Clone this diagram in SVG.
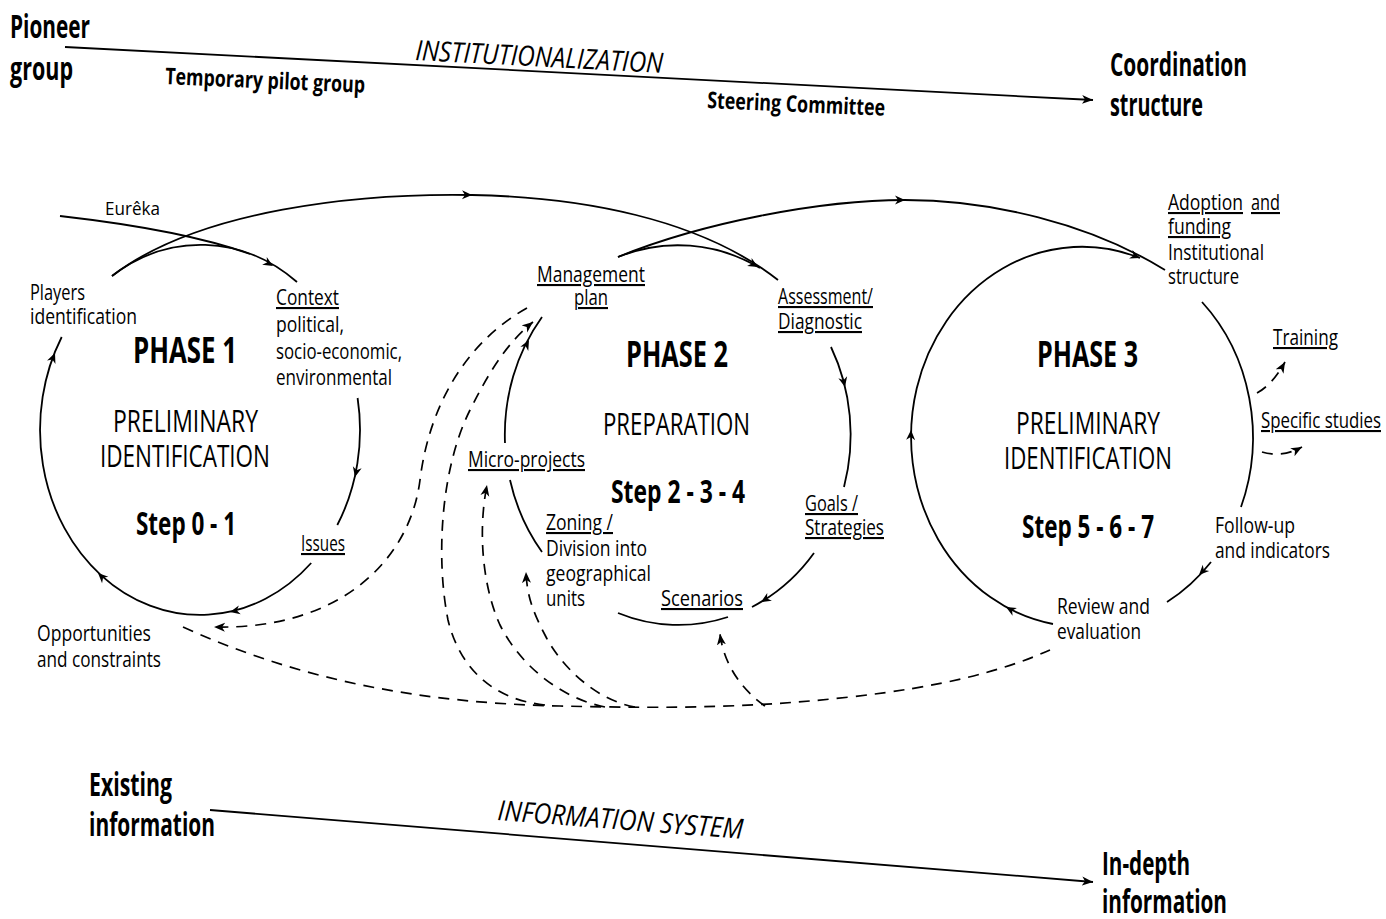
<svg xmlns="http://www.w3.org/2000/svg" width="1386" height="919" viewBox="0 0 1386 919">
<style>
text{font-family:"Open Sans","Noto Sans","Liberation Sans",sans-serif;fill:#000}
.big{font-size:32px;font-weight:700}
.sub{font-size:23px;font-weight:700}
.it{font-size:28px;font-style:italic}
.ph{font-size:35px;font-weight:700}
.nm{font-size:31px}
.st{font-size:32px;font-weight:700}
.lb{font-size:21px}
.eu{font-size:19px}
.u{text-decoration:underline}
.ln{fill:none;stroke:#000;stroke-width:1.8}
.ds{fill:none;stroke:#000;stroke-width:1.7;stroke-dasharray:11 8}
</style>
<defs>
<marker id="m" viewBox="0 0 12 10" refX="11" refY="5" markerWidth="12" markerHeight="10" markerUnits="userSpaceOnUse" orient="auto"><path d="M0,0.5 L11,5 L0,9.5 L3,5 Z"/></marker>
<path id="ah" d="M0,0 L-10,-4.5 L-7,0 L-10,4.5 Z"/>
</defs>
<rect width="1386" height="919" fill="#fff"/>

<g id="connectors">
  <path class="ln" d="M65,47 L1093,100" marker-end="url(#m)"/>
  <path class="ln" d="M210,810 L1093,882" marker-end="url(#m)"/>

  <path class="ln" d="M112,276 A160,185 0 0 1 297,282"/>
  <path class="ln" d="M60,216 C130,224 200,236 250,254"/>
  <path class="ln" d="M357.6,398 A160,185 0 0 1 337.3,525"/>
  <path class="ln" d="M311.2,563 A160,185 0 0 1 61.7,337"/>

  <path class="ln" d="M112,276 C199,209 360,193 472,195 C580,197 699,218 778,280"/>
  <path class="ln" d="M618,257 C701,223 820,200 905,200 C990,200 1089,223 1165,270"/>

  <path class="ln" d="M618,257 A173,190 0 0 1 760,268"/>
  <path class="ln" d="M831,347 A173,190 0 0 1 844,487"/>
  <path class="ln" d="M814,553 A173,190 0 0 1 752,607"/>
  <path class="ln" d="M728,617 A173,190 0 0 1 618,613"/>
  <path class="ln" d="M542,552 A173,190 0 0 1 510,480"/>
  <path class="ln" d="M505,443 A173,190 0 0 1 542,317"/>

  <path class="ln" d="M1053,624 A171,190 0 1 1 1140,258"/>
  <path class="ln" d="M1202,302 A171,190 0 0 1 1241,507"/>
  <path class="ln" d="M1211,562 A171,190 0 0 1 1167,602"/>

  <use href="#ah" transform="translate(273,266) rotate(31)"/>
  <use href="#ah" transform="translate(355,477) rotate(103)"/>
  <use href="#ah" transform="translate(230,612) rotate(168)"/>
  <use href="#ah" transform="translate(98,573) rotate(-136)"/>
  <use href="#ah" transform="translate(55,353) rotate(-68)"/>
  <use href="#ah" transform="translate(472,195) rotate(1)"/>
  <use href="#ah" transform="translate(758,267) rotate(30)"/>
  <use href="#ah" transform="translate(845,387) rotate(77)"/>
  <use href="#ah" transform="translate(761,602) rotate(149)"/>
  <use href="#ah" transform="translate(529,340) rotate(-62)"/>
  <use href="#ah" transform="translate(905,200) rotate(0)"/>
  <use href="#ah" transform="translate(1140,258) rotate(22)"/>
  <use href="#ah" transform="translate(911,430) rotate(-88)"/>
  <use href="#ah" transform="translate(1006,607) rotate(-151)"/>
  <use href="#ah" transform="translate(1199,575) rotate(134)"/>

  <path class="ds" d="M527,308 C470,340 430,400 420,480 C410,560 340,630 214,627" marker-end="url(#m)"/>
  <path class="ds" d="M183,627 C300,680 420,703 560,706 C680,709 760,707 850,697 C940,687 1000,672 1050,650"/>
  <path class="ds" d="M545,705 C495,700 460,670 448,620 C436,560 440,470 470,410 C490,370 508,342 533,322" marker-end="url(#m)"/>
  <path class="ds" d="M605,707 C560,698 520,665 500,625 C482,585 478,530 487,485" marker-end="url(#m)"/>
  <path class="ds" d="M635,707 C595,700 560,665 545,635 C532,610 527,595 526,572" marker-end="url(#m)"/>
  <path class="ds" d="M765,706 C742,690 724,665 720,634" marker-end="url(#m)"/>
  <path class="ds" d="M1257,393 Q1272,385 1285,362" marker-end="url(#m)"/>
  <path class="ds" d="M1262,452 Q1282,458 1302,447" marker-end="url(#m)"/>
</g>

<g id="pioneer-group">
  <text class="big" x="10" y="38" textLength="80" lengthAdjust="spacingAndGlyphs">Pioneer</text>
  <text class="big" x="10" y="80" textLength="63" lengthAdjust="spacingAndGlyphs">group</text>
</g>
<g id="temporary-pilot-group">
  <text class="sub" x="165" y="84" textLength="200" lengthAdjust="spacingAndGlyphs" transform="rotate(2.5 165 84)">Temporary pilot group</text>
</g>
<g id="institutionalization">
  <text class="it" x="415" y="60" textLength="248" lengthAdjust="spacingAndGlyphs" transform="rotate(3 415 60)">INSTITUTIONALIZATION</text>
</g>
<g id="steering-committee">
  <text class="sub" x="707" y="108" textLength="178" lengthAdjust="spacingAndGlyphs" transform="rotate(2.5 707 108)">Steering Committee</text>
</g>
<g id="coordination-structure">
  <text class="big" x="1110" y="76" textLength="137" lengthAdjust="spacingAndGlyphs">Coordination</text>
  <text class="big" x="1110" y="116" textLength="93" lengthAdjust="spacingAndGlyphs">structure</text>
</g>

<g id="eureka">
  <text class="eu" x="105" y="215" textLength="55" lengthAdjust="spacingAndGlyphs">Eurêka</text>
</g>
<g id="players-identification">
  <text class="lb" x="30" y="300" textLength="55" lengthAdjust="spacingAndGlyphs">Players</text>
  <text class="lb" x="30" y="324" textLength="107" lengthAdjust="spacingAndGlyphs">identification</text>
</g>
<g id="context">
  <text class="lb u" x="276" y="305" textLength="63" lengthAdjust="spacingAndGlyphs">Context</text>
  <text class="lb" x="276" y="332" textLength="68" lengthAdjust="spacingAndGlyphs">political,</text>
  <text class="lb" x="276" y="359" textLength="126" lengthAdjust="spacingAndGlyphs">socio-economic,</text>
  <text class="lb" x="276" y="385" textLength="116" lengthAdjust="spacingAndGlyphs">environmental</text>
</g>
<g id="phase1">
  <text class="ph" x="133" y="363" textLength="104" lengthAdjust="spacingAndGlyphs">PHASE 1</text>
  <text class="nm" x="113" y="432" textLength="145" lengthAdjust="spacingAndGlyphs">PRELIMINARY</text>
  <text class="nm" x="100" y="467" textLength="170" lengthAdjust="spacingAndGlyphs">IDENTIFICATION</text>
  <text class="st" x="136" y="535" textLength="100" lengthAdjust="spacingAndGlyphs">Step 0 - 1</text>
</g>
<g id="issues">
  <text class="lb u" x="301" y="551" textLength="44" lengthAdjust="spacingAndGlyphs">Issues</text>
</g>
<g id="opportunities">
  <text class="lb" x="37" y="641" textLength="114" lengthAdjust="spacingAndGlyphs">Opportunities</text>
  <text class="lb" x="37" y="667" textLength="124" lengthAdjust="spacingAndGlyphs">and constraints</text>
</g>

<g id="management-plan">
  <text class="lb u" x="537" y="282" textLength="108" lengthAdjust="spacingAndGlyphs">Management</text>
  <text class="lb u" x="574" y="305" textLength="34" lengthAdjust="spacingAndGlyphs">plan</text>
</g>
<g id="assessment">
  <text class="lb u" x="778" y="304" textLength="95" lengthAdjust="spacingAndGlyphs">Assessment/</text>
  <text class="lb u" x="778" y="329" textLength="84" lengthAdjust="spacingAndGlyphs">Diagnostic</text>
</g>
<g id="phase2">
  <text class="ph" x="626" y="367" textLength="102" lengthAdjust="spacingAndGlyphs">PHASE 2</text>
  <text class="nm" x="603" y="435" textLength="147" lengthAdjust="spacingAndGlyphs">PREPARATION</text>
  <text class="st" x="611" y="503" textLength="134" lengthAdjust="spacingAndGlyphs">Step 2 - 3 - 4</text>
</g>
<g id="micro-projects">
  <text class="lb u" x="468" y="467" textLength="117" lengthAdjust="spacingAndGlyphs">Micro-projects</text>
</g>
<g id="goals">
  <text class="lb u" x="805" y="511" textLength="53" lengthAdjust="spacingAndGlyphs">Goals /</text>
  <text class="lb u" x="805" y="535" textLength="79" lengthAdjust="spacingAndGlyphs">Strategies</text>
</g>
<g id="zoning">
  <text class="lb u" x="546" y="530" textLength="67" lengthAdjust="spacingAndGlyphs">Zoning /</text>
  <text class="lb" x="546" y="556" textLength="101" lengthAdjust="spacingAndGlyphs">Division into</text>
  <text class="lb" x="546" y="581" textLength="105" lengthAdjust="spacingAndGlyphs">geographical</text>
  <text class="lb" x="546" y="606" textLength="39" lengthAdjust="spacingAndGlyphs">units</text>
</g>
<g id="scenarios">
  <text class="lb u" x="661" y="606" textLength="82" lengthAdjust="spacingAndGlyphs">Scenarios</text>
</g>

<g id="adoption">
  <text class="lb u" x="1168" y="210" textLength="75" lengthAdjust="spacingAndGlyphs">Adoption</text>
  <text class="lb u" x="1251" y="210" textLength="29" lengthAdjust="spacingAndGlyphs">and</text>
  <text class="lb u" x="1168" y="234" textLength="63" lengthAdjust="spacingAndGlyphs">funding</text>
  <text class="lb" x="1168" y="260" textLength="96" lengthAdjust="spacingAndGlyphs">Institutional</text>
  <text class="lb" x="1168" y="284" textLength="71" lengthAdjust="spacingAndGlyphs">structure</text>
</g>
<g id="phase3">
  <text class="ph" x="1037" y="367" textLength="101" lengthAdjust="spacingAndGlyphs">PHASE 3</text>
  <text class="nm" x="1016" y="434" textLength="144" lengthAdjust="spacingAndGlyphs">PRELIMINARY</text>
  <text class="nm" x="1004" y="469" textLength="168" lengthAdjust="spacingAndGlyphs">IDENTIFICATION</text>
  <text class="st" x="1022" y="538" textLength="132" lengthAdjust="spacingAndGlyphs">Step 5 - 6 - 7</text>
</g>
<g id="training">
  <text class="lb u" x="1273" y="345" textLength="65" lengthAdjust="spacingAndGlyphs">Training</text>
</g>
<g id="specific-studies">
  <text class="lb u" x="1261" y="428" textLength="120" lengthAdjust="spacingAndGlyphs">Specific studies</text>
</g>
<g id="follow-up">
  <text class="lb" x="1215" y="533" textLength="80" lengthAdjust="spacingAndGlyphs">Follow-up</text>
  <text class="lb" x="1215" y="558" textLength="115" lengthAdjust="spacingAndGlyphs">and indicators</text>
</g>
<g id="review">
  <text class="lb" x="1057" y="614" textLength="93" lengthAdjust="spacingAndGlyphs">Review and</text>
  <text class="lb" x="1057" y="639" textLength="84" lengthAdjust="spacingAndGlyphs">evaluation</text>
</g>

<g id="existing-information">
  <text class="big" x="89" y="796" textLength="83" lengthAdjust="spacingAndGlyphs">Existing</text>
  <text class="big" x="89" y="836" textLength="126" lengthAdjust="spacingAndGlyphs">information</text>
</g>
<g id="information-system">
  <text class="it" x="497" y="820" textLength="246" lengthAdjust="spacingAndGlyphs" transform="rotate(4.4 497 820)">INFORMATION SYSTEM</text>
</g>
<g id="in-depth-information">
  <text class="big" x="1102" y="875" textLength="88" lengthAdjust="spacingAndGlyphs">In-depth</text>
  <text class="big" x="1102" y="913" textLength="125" lengthAdjust="spacingAndGlyphs">information</text>
</g>
</svg>
